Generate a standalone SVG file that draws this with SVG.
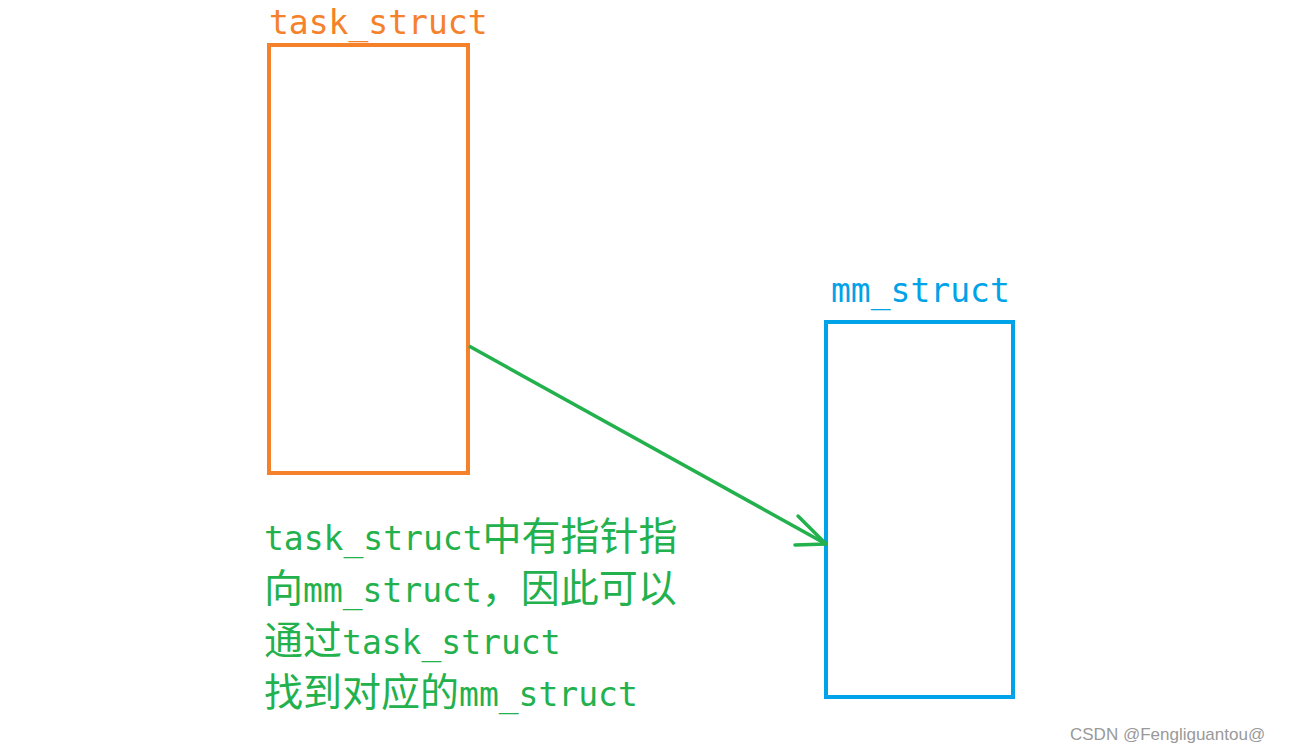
<svg xmlns="http://www.w3.org/2000/svg" width="1296" height="747" viewBox="0 0 1296 747">
<style>
.m{font-family:"DejaVu Sans Mono","Liberation Mono","Noto Sans CJK SC",monospace;font-size:33px}
.c{font-family:"Noto Sans CJK SC",sans-serif;font-size:39px}
</style>
<rect width="1296" height="747" fill="#fff"/>
<g id="task_struct">
<rect x="269" y="45" width="199" height="428" fill="none" stroke="#F5812A" stroke-width="4"/>
<text class="m" x="269" y="34" fill="#F5812A">task_struct</text>
</g>
<g id="mm_struct">
<rect x="826" y="322" width="187" height="375" fill="none" stroke="#00A2E8" stroke-width="4"/>
<text class="m" x="831" y="302" fill="#00A2E8">mm_struct</text>
</g>
<g id="connectors">
<line x1="469" y1="346" x2="826" y2="544" stroke="#22B14C" stroke-width="3.5"/>
<polyline points="798,516 826,544 795,545" fill="none" stroke="#22B14C" stroke-width="3.5" stroke-linecap="round" stroke-linejoin="round"/>
</g>
<g id="label" fill="#22B14C">
<text class="m" x="264" y="550">task_struct<tspan class="c">中有指针指</tspan></text>
<text class="m" x="264" y="602"><tspan class="c">向</tspan>mm_struct<tspan class="c">，因此可以</tspan></text>
<text class="m" x="264" y="654"><tspan class="c">通过</tspan>task_struct</text>
<text class="m" x="264" y="706"><tspan class="c">找到对应的</tspan>mm_struct</text>
</g>
<text x="1070" y="740" font-family="Liberation Sans,sans-serif" font-size="17" fill="#999">CSDN @Fengliguantou@</text>
</svg>
